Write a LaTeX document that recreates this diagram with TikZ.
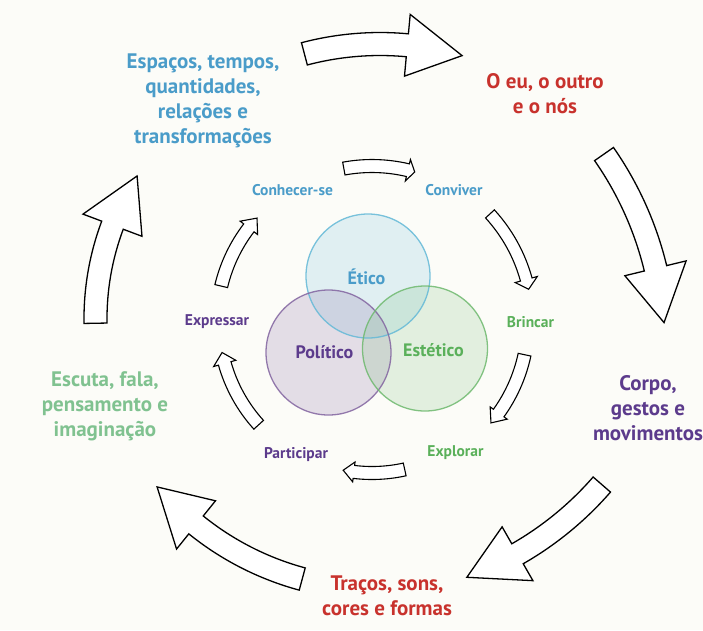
\documentclass[tikz,border=0pt]{standalone}
\usepackage{fontspec}
\setmainfont{PT Sans}
\usetikzlibrary{calc}
\definecolor{cblue}{RGB}{74,156,201}
\definecolor{cred}{RGB}{200,50,45}
\definecolor{cpurple}{RGB}{92,59,140}
\definecolor{cgreen}{RGB}{90,176,90}
\definecolor{clgreen}{RGB}{128,194,144}
\definecolor{bgcol}{RGB}{252,252,248}
\definecolor{cblueline}{RGB}{100,185,215}
\definecolor{cpurpleline}{RGB}{130,100,160}
\definecolor{cgreenline}{RGB}{110,185,110}

% #1 style, #2 cx, #3 cy, #4 R, #5 tail angle, #6 head base angle, #7 tip angle, #8 shaft half width, #9 head half width
\newcommand\blockarr[9]{%
  \pgfmathsetmacro\baRoa{#4+#8}\pgfmathsetmacro\baRia{#4-#8}%
  \pgfmathsetmacro\baRoh{#4+#9}\pgfmathsetmacro\baRih{#4-#9}%
  \draw[#1] ($(#2,#3)+(#5:\baRoa)$) arc[start angle=#5, end angle=#6, radius=\baRoa]
    -- ($(#2,#3)+(#6:\baRoh)$) -- ($(#2,#3)+(#7:#4)$) -- ($(#2,#3)+(#6:\baRih)$)
    -- ($(#2,#3)+(#6:\baRia)$) arc[start angle=#6, end angle=#5, radius=\baRia] -- cycle;
}

\tikzset{
  bigarrow/.style={draw=black, fill=white, line width=1.3pt, line join=miter},
  smallarrow/.style={draw=black, fill=white, line width=1.1pt, line join=miter},
  outerlabel/.style={font=\bfseries\fontsize{21}{25}\selectfont, align=center, inner sep=0pt},
  innerlabel/.style={font=\bfseries\fontsize{15.5}{17}\selectfont, inner sep=0pt},
  circlabel/.style={font=\bfseries\fontsize{18}{20}\selectfont, inner sep=0pt},
}

\begin{document}
\begin{tikzpicture}[x=1pt, y=1pt, yscale=-1]
\fill[bgcol] (0,0) rectangle (703,630);
\useasboundingbox (0,0) rectangle (703,630);

% Venn circles
\fill[cblueline, fill opacity=0.18] (368,276) circle[radius=62];
\fill[cpurpleline, fill opacity=0.2] (328.5,352.5) circle[radius=62.5];
\fill[cgreenline, fill opacity=0.18] (425,348.5) circle[radius=62.5];
\draw[cblueline, line width=1.3pt, draw opacity=0.85] (368,276) circle[radius=62];
\draw[cpurpleline, line width=1.3pt, draw opacity=0.85] (328.5,352.5) circle[radius=62.5];
\draw[cgreenline, line width=1.3pt, draw opacity=0.85] (425,348.5) circle[radius=62.5];

\node[circlabel, text=cblue] (etico) at (366.5,277) {Ético};
\node[circlabel, text=cpurple] (politico) at (324.5,352) {Político};
\node[circlabel, text=cgreen] (estetico) at (433.5,350) {Estético};

% outer arrows
\blockarr{bigarrow}{380}{340}{296}{-104.8}{-84.7}{-73.9}{11.5}{31}
\blockarr{bigarrow}{326}{348}{339}{-34.9}{-13.6}{-4.3}{11.5}{31.5}
\blockarr{bigarrow}{355}{270}{327}{41.0}{60.2}{70.0}{11.5}{31}
\blockarr{bigarrow}{377.5}{300}{289}{105.1}{128.9}{139.7}{11.5}{31}
\blockarr{bigarrow}{361}{318.6}{265.5}{-181}{-159.4}{-147.5}{11.5}{31.5}

% inner arrows
\blockarr{smallarrow}{372}{322}{156}{-100.4}{-76.7}{-74.1}{6.5}{11}
\blockarr{smallarrow}{372}{322}{160}{-42.5}{-15.4}{-11.8}{6}{11.5}
\blockarr{smallarrow}{372}{322}{156}{12.1}{35.7}{40.3}{6.5}{10.5}
\blockarr{smallarrow}{372}{322}{151}{77.5}{96.9}{101.0}{6.5}{10}
\blockarr{smallarrow}{372}{322}{153}{137.8}{164.3}{168.5}{6.5}{11.5}
\blockarr{smallarrow}{372}{322}{155}{-166.6}{-142.6}{-137.9}{6.5}{11}

% inner labels
\node[innerlabel, text=cblue] (conhecer) at (292.5,190) {Conhecer-se};
\node[innerlabel, text=cblue] (conviver) at (454,190) {Conviver};
\node[innerlabel, text=cgreen] (brincar) at (530.5,322) {Brincar};
\node[innerlabel, text=cgreen] (explorar) at (455.5,453) {Explorar};
\node[innerlabel, text=cpurple] (participar) at (296,455) {Participar};
\node[innerlabel, text=cpurple] (expressar) at (217,322) {Expressar};

% outer labels
\node[outerlabel, text=cblue] (espacos) at (203,101) {Espaços, tempos,\\quantidades,\\relações e\\transformações};
\node[outerlabel, text=cred] (eu) at (545,94) {O eu, o outro\\e o nós};
\node[outerlabel, text=cpurple] (corpo) at (648,408) {Corpo,\\gestos e\\movimentos};
\node[outerlabel, text=cred] (tracos) at (387,596) {Traços, sons,\\cores e formas};
\node[outerlabel, text=clgreen] (escuta) at (105,406) {Escuta, fala,\\pensamento e\\imaginação};
\end{tikzpicture}
\end{document}
